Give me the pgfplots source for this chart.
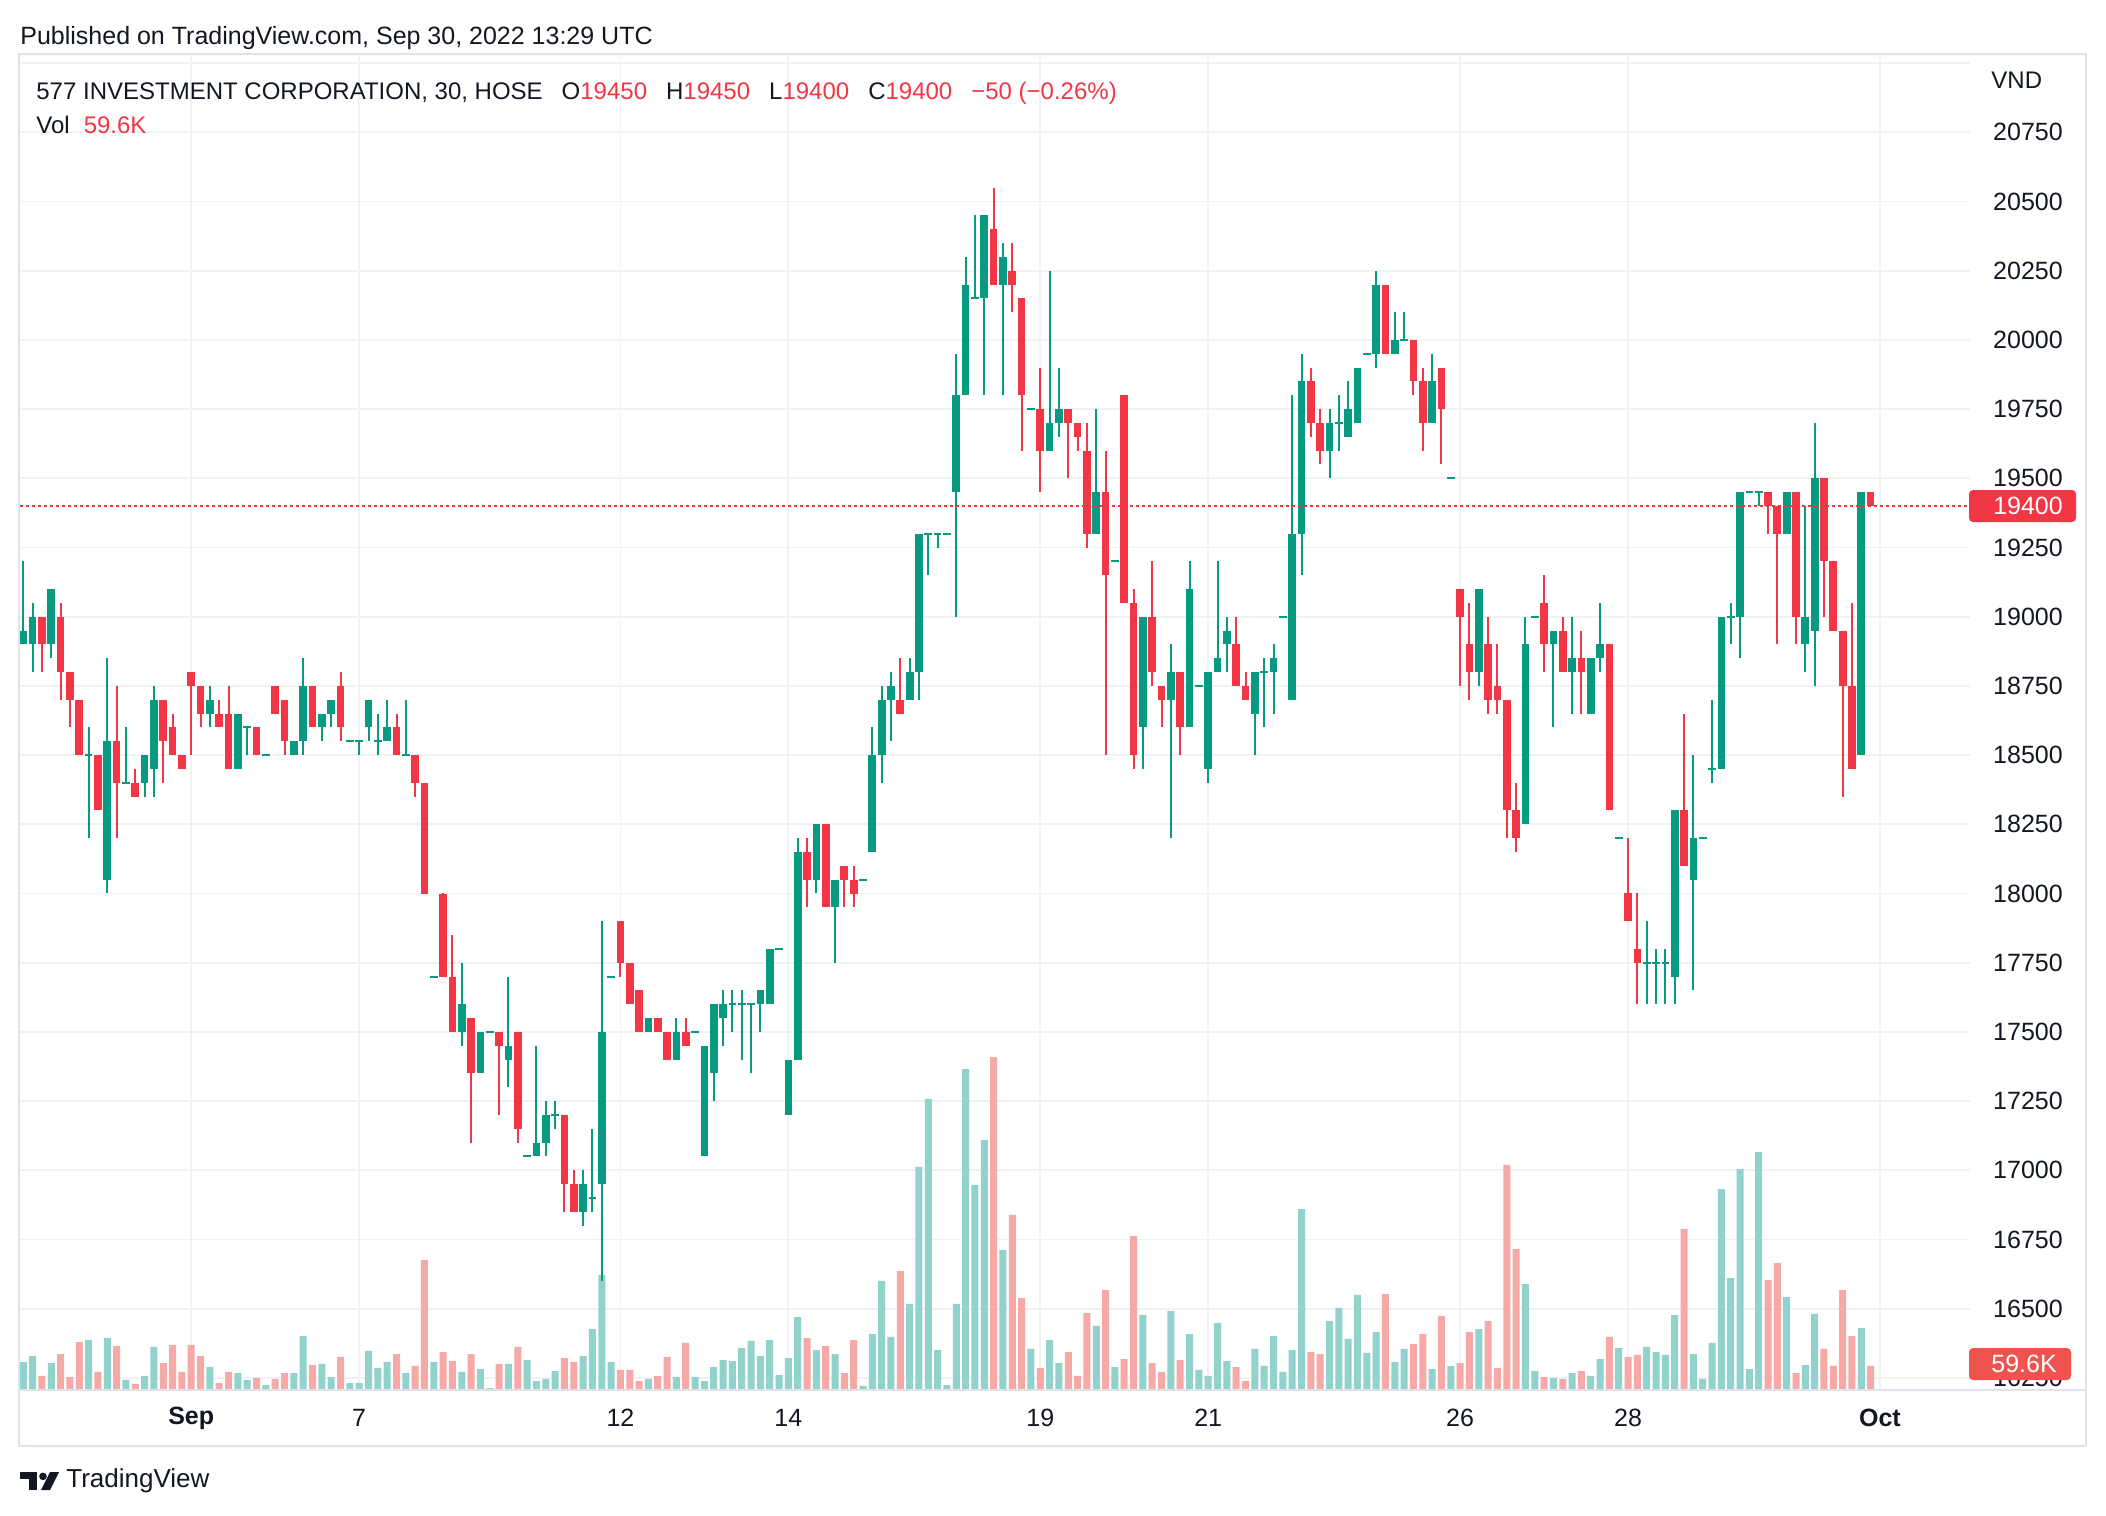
\documentclass[border=0pt]{standalone}
\usepackage{pgfplots}
\pgfplotsset{compat=1.18}
\usepackage{pgfplotstable}
\usepackage{fontspec}
\setmainfont{Liberation Sans}
\definecolor{upc}{RGB}{8,153,129}
\definecolor{dnc}{RGB}{242,54,69}
\definecolor{upv}{RGB}{146,210,204}
\definecolor{dnv}{RGB}{247,169,167}
\definecolor{gridc}{RGB}{241,242,245}
\definecolor{bordc}{RGB}{224,227,235}
\definecolor{txt}{RGB}{19,23,34}
\definecolor{volbox}{RGB}{239,83,80}

\pgfplotstableread{
i O H L C V
0 18900 19200 18900 18950 69
1 18900 19050 18800 19000 84
2 19000 19000 18800 18900 35
3 18900 19100 18850 19100 67
4 19000 19050 18700 18800 89
5 18800 18800 18600 18700 32
6 18700 18700 18500 18500 119
7 18500 18600 18200 18500 124
8 18500 18500 18300 18300 45
9 18050 18850 18000 18550 129
10 18550 18750 18200 18400 109
11 18400 18600 18400 18400 25
12 18400 18450 18350 18350 15
13 18400 18500 18350 18500 35
14 18450 18750 18350 18700 107
15 18700 18700 18400 18550 67
16 18600 18650 18500 18500 112
17 18500 18500 18450 18450 45
18 18800 18800 18500 18750 112
19 18750 18750 18600 18650 84
20 18650 18750 18600 18700 57
21 18650 18700 18600 18600 17
22 18650 18750 18450 18450 45
23 18450 18650 18450 18650 42
24 18600 18600 18500 18600 25
25 18600 18600 18500 18500 30
26 18500 18500 18500 18500 12
27 18750 18750 18650 18650 27
28 18700 18700 18500 18550 42
29 18500 18550 18500 18550 42
30 18550 18850 18500 18750 134
31 18750 18750 18600 18600 62
32 18600 18650 18550 18650 65
33 18650 18700 18600 18700 32
34 18750 18800 18550 18600 82
35 18550 18550 18550 18550 17
36 18550 18550 18500 18550 17
37 18600 18700 18550 18700 97
38 18550 18650 18500 18550 55
39 18550 18700 18550 18600 70
40 18600 18650 18500 18500 89
41 18500 18700 18500 18500 42
42 18500 18500 18350 18400 60
43 18400 18400 18000 18000 323
44 17700 17700 17700 17700 70
45 18000 18000 17700 17700 94
46 17700 17850 17500 17500 72
47 17500 17750 17450 17600 45
48 17550 17550 17100 17350 89
49 17350 17500 17350 17500 52
50 17500 17500 17500 17500 5
51 17500 17500 17200 17450 65
52 17400 17700 17300 17450 65
53 17500 17500 17100 17150 107
54 17050 17050 17050 17050 74
55 17050 17450 17050 17100 22
56 17100 17250 17050 17200 27
57 17200 17250 17150 17200 47
58 17200 17200 16850 16950 79
59 16950 17000 16850 16850 70
60 16850 17000 16800 16950 84
61 16900 17150 16850 16900 151
62 16950 17900 16600 17500 286
63 17700 17700 17700 17700 70
64 17900 17900 17700 17750 50
65 17750 17750 17600 17600 50
66 17650 17650 17500 17500 22
67 17500 17550 17500 17550 27
68 17550 17550 17500 17500 35
69 17500 17500 17400 17400 82
70 17400 17550 17400 17500 32
71 17500 17550 17450 17450 117
72 17500 17500 17500 17500 32
73 17050 17450 17050 17450 22
74 17350 17600 17250 17600 57
75 17550 17650 17450 17600 74
76 17600 17650 17500 17600 72
77 17600 17650 17400 17600 104
78 17600 17600 17350 17600 122
79 17600 17650 17500 17650 84
80 17600 17800 17600 17800 124
81 17800 17800 17800 17800 37
82 17200 17400 17200 17400 79
83 17400 18200 17400 18150 181
84 18150 18200 17950 18050 129
85 18050 18250 18000 18250 99
86 18250 18250 17950 17950 109
87 17950 18050 17750 18050 89
88 18100 18100 17950 18050 42
89 18050 18100 17950 18000 124
90 18050 18050 18050 18050 10
91 18150 18600 18150 18500 139
92 18500 18750 18400 18700 271
93 18700 18800 18550 18750 132
94 18700 18850 18650 18650 295
95 18700 18850 18700 18800 214
96 18800 19300 18700 19300 554
97 19300 19300 19150 19300 723
98 19300 19300 19250 19300 99
99 19300 19300 19300 19300 12
100 19450 19950 19000 19800 214
101 19800 20300 19800 20200 797
102 20150 20450 20150 20150 509
103 20150 20450 19800 20450 621
104 20400 20550 20200 20200 827
105 20200 20350 19800 20300 348
106 20250 20350 20100 20200 435
107 20150 20150 19600 19800 228
108 19750 19750 19750 19750 102
109 19750 19900 19450 19600 55
110 19600 20250 19600 19700 124
111 19700 19900 19650 19750 67
112 19750 19750 19500 19700 94
113 19700 19700 19600 19650 35
114 19600 19700 19250 19300 191
115 19300 19750 19300 19450 159
116 19450 19600 18500 19150 248
117 19200 19200 19200 19200 57
118 19800 19800 19050 19050 77
119 19050 19100 18450 18500 382
120 18600 19000 18450 19000 186
121 19000 19200 18750 18800 67
122 18750 18750 18600 18700 45
123 18700 18900 18200 18800 196
124 18800 18800 18500 18600 74
125 18600 19200 18600 19100 139
126 18750 18750 18750 18750 50
127 18450 18800 18400 18800 35
128 18800 19200 18800 18850 166
129 18900 19000 18800 18950 72
130 18900 19000 18750 18750 57
131 18750 18800 18700 18700 22
132 18650 18800 18500 18800 102
133 18800 18850 18600 18800 60
134 18800 18900 18650 18850 134
135 19000 19000 19000 19000 45
136 18700 19800 18700 19300 99
137 19300 19950 19150 19850 449
138 19850 19900 19650 19700 94
139 19700 19750 19550 19600 89
140 19600 19750 19500 19700 171
141 19700 19800 19600 19700 204
142 19650 19850 19650 19750 127
143 19700 19900 19700 19900 236
144 19950 19950 19950 19950 92
145 19950 20250 19900 20200 144
146 20200 20200 19950 19950 238
147 19950 20100 19950 20000 70
148 20000 20100 20000 20000 102
149 20000 20000 19800 19850 114
150 19850 19900 19600 19700 139
151 19700 19950 19700 19850 52
152 19900 19900 19550 19750 184
153 19500 19500 19500 19500 60
154 19100 19100 18750 19000 67
155 18900 19050 18700 18800 144
156 18800 19100 18750 19100 151
157 18900 19000 18650 18700 171
158 18750 18900 18650 18700 55
159 18700 18700 18200 18300 559
160 18300 18400 18150 18200 350
161 18250 19000 18250 18900 263
162 19000 19000 19000 19000 47
163 19050 19150 18800 18900 32
164 18900 18950 18600 18950 30
165 18950 19000 18800 18800 27
166 18800 19000 18650 18850 42
167 18850 18950 18650 18800 47
168 18650 18850 18650 18850 35
169 18850 19050 18800 18900 77
170 18900 18900 18300 18300 132
171 18200 18200 18200 18200 104
172 18000 18200 17900 17900 82
173 17800 18000 17600 17750 87
174 17750 17900 17600 17750 107
175 17750 17800 17600 17750 94
176 17750 17800 17600 17750 87
177 17700 18300 17600 18300 186
178 18300 18650 18100 18100 400
179 18050 18500 17650 18200 89
180 18200 18200 18200 18200 27
181 18450 18700 18400 18450 117
182 18450 19000 18450 19000 499
183 19000 19050 18900 19000 278
184 19000 19450 18850 19450 549
185 19450 19450 19450 19450 52
186 19450 19450 19400 19450 591
187 19450 19450 19300 19400 273
188 19400 19400 18900 19300 315
189 19300 19450 19300 19450 231
190 19450 19450 18900 19000 42
191 18900 19400 18800 19000 62
192 18950 19700 18750 19500 189
193 19500 19500 19000 19200 102
194 19200 19200 18950 18950 60
195 18950 18950 18350 18750 248
196 18750 19050 18450 18450 134
197 18500 19450 18500 19450 154
198 19450 19450 19400 19400 60
}\candles

\pgfplotsset{
  chartbase/.style={
    at={(10pt,-695pt)}, anchor=south west,
    scale only axis, width=975pt, height=668pt,
    xmin=-0.354, xmax=208.65,
  },
  filter discard warning=false,
  nomark/.style={only marks, mark=*, mark size=0pt, mark options={draw=none, fill=none, draw opacity=0, fill opacity=0}},
}

\begin{document}
\begin{tikzpicture}
\useasboundingbox (0,0) rectangle (1053pt,-758pt);
\fill[white] (0,0) rectangle (1053pt,-758pt);

% grid and tick labels
\begin{axis}[chartbase, ymin=16206, ymax=21033,
  scaled ticks=false,
  axis line style={draw=none}, major tick length=0pt,
  grid=major, major grid style={draw=gridc, line width=0.9pt},
  xtick={18,36,64,82,109,127,154,172,199},
  xticklabels={\textbf{Sep},7,12,14,19,21,26,28,\textbf{Oct}},
  ytick={16250,16500,16750,17000,17250,17500,17750,18000,18250,18500,18750,19000,19250,19500,19750,20000,20250,20500,20750,21000},
  yticklabels={16250,16500,16750,17000,17250,17500,17750,18000,18250,18500,18750,19000,19250,19500,19750,20000,20250,20500,20750,{}},
  yticklabel pos=right,
  tick label style={font=\fontsize{12.5}{15}\selectfont, text=txt},
  yticklabel style={anchor=center, xshift=29pt},
  xticklabel style={anchor=center, yshift=-14pt},
]
\end{axis}

% volume
\begin{axis}[chartbase, hide axis, ymin=0, ymax=3318]
\addplot[ybar, bar shift=0pt, bar width=3.5pt, fill=upv, draw=none]
  table[x=i, y expr={\thisrow{C}>=\thisrow{O} ? \thisrow{V} : nan}] {\candles};
\addplot[ybar, bar shift=0pt, bar width=3.5pt, fill=dnv, draw=none]
  table[x=i, y expr={\thisrow{C}<\thisrow{O} ? \thisrow{V} : nan}] {\candles};
\end{axis}

% candles
\begin{axis}[chartbase, hide axis, ymin=16206, ymax=21033]
\addplot[nomark, error bars/.cd, y dir=plus, y explicit, error mark=none,
  error bar style={line width=1pt, draw=upc}]
  table[x=i, y expr={\thisrow{C}>=\thisrow{O} ? \thisrow{L} : nan},
        y error plus expr={\thisrow{H}-\thisrow{L}}] {\candles};
\addplot[nomark, error bars/.cd, y dir=plus, y explicit, error mark=none,
  error bar style={line width=1pt, draw=dnc}]
  table[x=i, y expr={\thisrow{C}<\thisrow{O} ? \thisrow{L} : nan},
        y error plus expr={\thisrow{H}-\thisrow{L}}] {\candles};
\addplot[nomark, error bars/.cd, y dir=both, y explicit, error mark=none,
  error bar style={line width=3.85pt, draw=upc}]
  table[x=i, y expr={\thisrow{C}>=\thisrow{O} ? (\thisrow{O}+\thisrow{C})/2 : nan},
        y error expr={max(abs(\thisrow{C}-\thisrow{O})/2,3.6)}] {\candles};
\addplot[nomark, error bars/.cd, y dir=both, y explicit, error mark=none,
  error bar style={line width=3.85pt, draw=dnc}]
  table[x=i, y expr={\thisrow{C}<\thisrow{O} ? (\thisrow{O}+\thisrow{C})/2 : nan},
        y error expr={max(abs(\thisrow{C}-\thisrow{O})/2,3.6)}] {\candles};
\addplot[dnc, line width=0.8pt, dash pattern=on 1.3pt off 1.7pt] coordinates {(-0.354,19400) (208.65,19400)};
\end{axis}

% frame
\draw[bordc, line width=0.8pt] (9.5pt,-27pt) rectangle (1043pt,-723pt);
\draw[bordc, line width=0.8pt] (9.5pt,-695pt) -- (1043pt,-695pt);

% price and volume labels
\fill[dnc, rounded corners=2pt] (984.5pt,-245pt) rectangle (1038pt,-261pt);
\node[text=white, font=\fontsize{12.5}{15}\selectfont] at (1014pt,-253pt) {19400};
\fill[volbox, rounded corners=2pt] (984.5pt,-674pt) rectangle (1035.5pt,-690pt);
\node[text=white, font=\fontsize{12.5}{15}\selectfont] at (1012pt,-682pt) {59.6K};
\node[anchor=west, text=txt, font=\fontsize{12}{14}\selectfont, inner sep=0] at (995.5pt,-40pt) {VND};

% header
\node[anchor=west, text=txt, font=\fontsize{12.5}{15}\selectfont, inner sep=0] at (10pt,-19pt) {Published on TradingView.com, Sep 30, 2022 13:29 UTC};
\node[anchor=west, text=txt, font=\fontsize{12}{14}\selectfont, inner sep=0] at (18pt,-46.5pt)
  {577 INVESTMENT CORPORATION, 30, HOSE\hspace{9.5pt}O\textcolor{dnc}{19450}\hspace{9.5pt}H\textcolor{dnc}{19450}\hspace{9.5pt}L\textcolor{dnc}{19400}\hspace{9.5pt}C\textcolor{dnc}{19400}\hspace{9.5pt}\textcolor{dnc}{−50 (−0.26\%)}};
\node[anchor=west, text=txt, font=\fontsize{12}{14}\selectfont, inner sep=0] at (18pt,-62.5pt)
  {Vol\hspace{7pt}\textcolor{dnc}{59.6K}};

% logo
\fill[txt] (10pt,-736pt) rectangle (18.5pt,-739.5pt);
\fill[txt] (14.5pt,-736pt) rectangle (18.5pt,-745pt);
\fill[txt] (21.5pt,-738.2pt) circle (1.9pt);
\fill[txt] (25pt,-736pt) -- (29.5pt,-736pt) -- (25pt,-745pt) -- (20.5pt,-745pt) -- cycle;
\node[anchor=west, text=txt, font=\fontsize{13}{15}\selectfont, inner sep=0] at (33pt,-740.5pt) {TradingView};
\end{tikzpicture}
\end{document}
